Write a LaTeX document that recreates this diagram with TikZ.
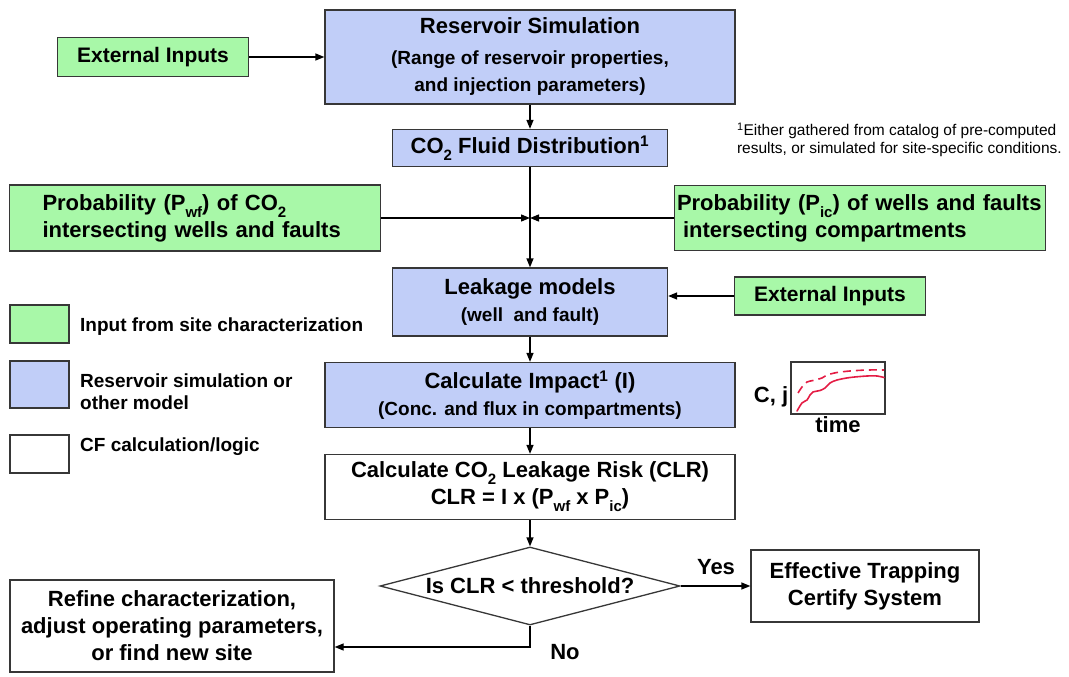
\documentclass[tikz,border=0pt]{standalone}
\usepackage{fontspec}
\setmainfont{Liberation Sans}
\usetikzlibrary{shapes.geometric,arrows.meta}
\definecolor{inputgreen}{RGB}{168,248,168}
\definecolor{modelblue}{RGB}{193,206,248}
\definecolor{boxline}{RGB}{55,55,55}
\definecolor{curvered}{RGB}{228,28,68}
\newcommand{\lo}[1]{\raisebox{-0.32em}{\fontsize{15}{15}\selectfont #1}}
\newcommand{\subtxt}{\fontsize{19}{23}\selectfont}

\begin{document}
\begin{tikzpicture}[x=1pt,y=-1pt,
  every node/.style={font=\bfseries\fontsize{22}{27}\selectfont},
  base/.style={draw=boxline,line width=1.3pt,inner sep=0pt,align=center},
  inbox/.style={base,fill=inputgreen},
  modbox/.style={base,fill=modelblue},
  calcbox/.style={base,fill=white},
  legtxt/.style={anchor=west,inner sep=0pt,align=left,font=\bfseries\fontsize{19}{22}\selectfont},
  arr/.style={line width=1.3pt,-{Triangle[length=9pt,width=7pt]}}]
  \useasboundingbox (0,0) rectangle (1069,677);

  \node[inbox,minimum width=191pt,minimum height=39pt,font=\bfseries\fontsize{21}{25}\selectfont] (ext1) at (153,57) {External Inputs};
  \node[modbox,minimum width=410pt,minimum height=94pt] (res) at (530,57)
    {Reservoir Simulation\\[4pt]{\subtxt (Range of reservoir properties,}\\{\subtxt and injection parameters)}};
  \node[modbox,minimum width=275pt,minimum height=37pt] (co2) at (530,148) {CO\lo{2} Fluid Distribution\textsuperscript{1}};
  \node[inbox,minimum width=371pt,minimum height=66pt,text width=305pt,align=left] (pwf) at (195,218)
    {Probability (P\lo{wf}) of CO\lo{2}\\intersecting wells and faults};
  \node[inbox,minimum width=371pt,minimum height=65pt,text width=366pt,align=left] (pic) at (860,218)
    {Probability (P\lo{ic}) of wells and faults\\\hspace*{6pt}intersecting compartments};
  \node[inbox,minimum width=191pt,minimum height=38pt,font=\bfseries\fontsize{21}{25}\selectfont] (ext2) at (830,296) {External Inputs};
  \node[modbox,minimum width=275pt,minimum height=68pt] (leak) at (530,302)
    {Leakage models\\{\subtxt (well~ and fault)}};
  \node[modbox,minimum width=410pt,minimum height=65pt] (imp) at (530,395)
    {Calculate Impact\textsuperscript{1} (I)\\{\subtxt (Conc. and flux in compartments)}};
  \node[calcbox,minimum width=410pt,minimum height=65pt] (clr) at (530,487)
    {Calculate CO\lo{2} Leakage Risk (CLR)\\CLR = I x (P\lo{wf} x P\lo{ic})};
  \node[calcbox,diamond,aspect=3.8,minimum width=300pt,minimum height=78pt] (dia) at (530,586) {Is CLR < threshold?};
  \node[calcbox,minimum width=228pt,minimum height=72pt] (eff) at (865,586) {Effective Trapping\\Certify System};
  \node[calcbox,minimum width=324pt,minimum height=92pt] (ref) at (172,626)
    {Refine characterization,\\adjust operating parameters,\\or find new site};
  \node (yes) at (716,567) {Yes};
  \node (no) at (565,652) {No};

  \node[inbox,minimum width=59pt,minimum height=38pt] (lg1) at (39.5,324) {};
  \node[modbox,minimum width=59pt,minimum height=47pt] (lg2) at (39.5,384.5) {};
  \node[calcbox,minimum width=59pt,minimum height=38pt] (lg3) at (39.5,454) {};
  \node[legtxt] (lt1) at (80,327) {Input from site characterization};
  \node[legtxt] (lt2) at (80,392) {Reservoir simulation or\\other model};
  \node[legtxt] (lt3) at (80,447) {CF calculation/logic};

  \node[anchor=east,align=left,inner sep=0pt,font=\fontsize{15.5}{18}\selectfont] (fn) at (1062,140)
    {\textsuperscript{1}Either gathered from catalog of pre-computed\\results, or simulated for site-specific conditions.};

  \node[draw=boxline,line width=1.2pt,minimum width=94pt,minimum height=52pt,inner sep=0pt] (cjbox) at (838,388) {};
  \node[anchor=east,inner sep=2pt] (cj) at ([yshift=-9pt]cjbox.west) {C, j};
  \node[anchor=north,inner sep=2pt] (time) at (cjbox.south) {time};
  \draw[curvered,line width=1.6pt,line cap=round] plot[smooth] coordinates
    {(797,411) (802,403) (807,400) (810,395) (813,392) (820,390.5) (825,388) (830,383) (837,380) (850,377.5) (867,376) (877,376) (884,377.5)};
  \draw[curvered,line width=1.6pt,dash pattern=on 8pt off 5pt] plot[smooth] coordinates
    {(798,393) (802,387) (807,382) (813,380.5) (822,378) (827,375) (837,372.5) (850,371) (867,370) (884,370)};

  \draw[arr] (ext1) -- (res);
  \draw[arr] (res) -- (co2);
  \draw[arr] (co2) -- (leak);
  \draw[arr] (pwf.east) -- (pwf.east -| co2.south);
  \draw[arr] (pic.west) -- (pic.west -| co2.south);
  \draw[arr] (ext2) -- (ext2 -| leak.east);
  \draw[arr] (leak) -- (imp);
  \draw[arr] (imp) -- (clr);
  \draw[arr] (clr) -- (dia);
  \draw[arr] (dia) -- (eff);
  \draw[arr] (dia.south) |- ([yshift=-21pt]ref.east);
\end{tikzpicture}
\end{document}
